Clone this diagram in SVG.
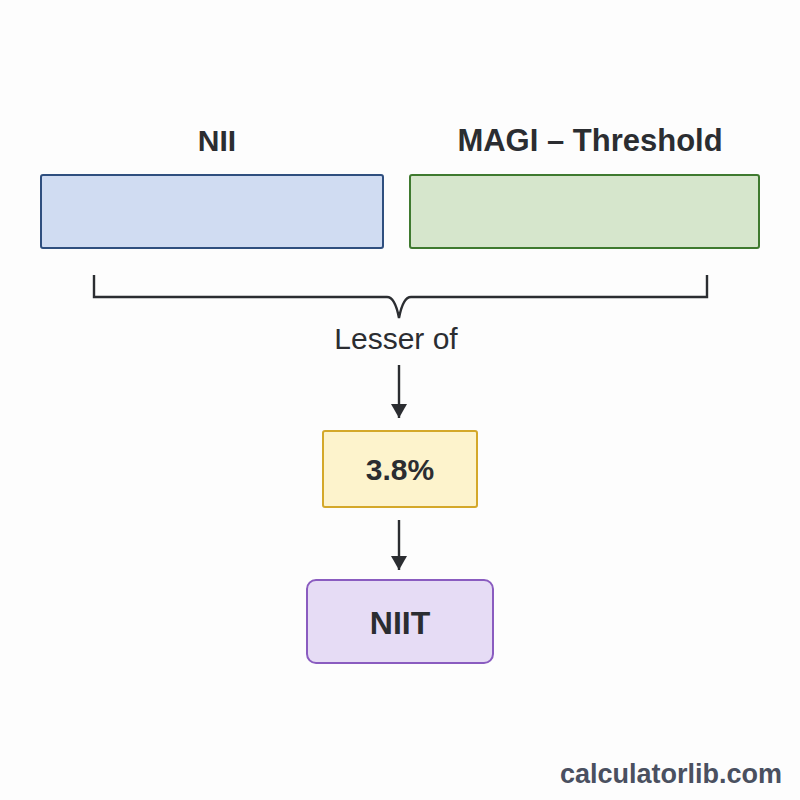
<svg xmlns="http://www.w3.org/2000/svg" width="800" height="800" viewBox="0 0 800 800">
<style>
.t{font-family:"Liberation Sans",Arial,sans-serif;fill:#2b2d31;text-anchor:middle}
.b{font-weight:bold}
.c{fill:none;stroke:#2b2d31;stroke-width:2.4}
</style>
<defs>
<marker id="ah" markerWidth="16" markerHeight="14" refX="8" refY="14" orient="0" markerUnits="userSpaceOnUse" viewBox="0 0 16 14">
<path d="M0,0 L16,0 L8,14 Z" fill="#2b2d31"/>
</marker>
</defs>
<rect width="800" height="800" fill="#fdfdfd"/>
<g id="nii">
<text class="t b" x="217" y="151" font-size="30">NII</text>
<rect x="41" y="175" width="342" height="73" rx="2" fill="#d0dcf2" stroke="#2f4f7f" stroke-width="2"/>
</g>
<g id="magi">
<text class="t b" x="590" y="151" font-size="31">MAGI – Threshold</text>
<rect x="410" y="175" width="349" height="73" rx="2" fill="#d6e6cc" stroke="#3f7a2f" stroke-width="2"/>
</g>
<g id="lesser">
<path class="c" d="M94,275 V297 H387 Q395,297 399,318 Q403,297 411,297 H707 V275"/>
<text class="t" x="396" y="349" font-size="30">Lesser of</text>
</g>
<g id="rate">
<rect x="323" y="431" width="154" height="76" rx="2" fill="#fdf3cc" stroke="#d4a82a" stroke-width="2"/>
<text class="t b" x="400" y="480" font-size="30">3.8%</text>
</g>
<g id="niit">
<rect x="307" y="580" width="186" height="83" rx="9" fill="#e6dcf5" stroke="#8a5cc0" stroke-width="2"/>
<text class="t b" x="400" y="634" font-size="32">NIIT</text>
</g>
<g id="connectors">
<line class="c" x1="399" y1="365" x2="399" y2="418" marker-end="url(#ah)"/>
<line class="c" x1="399" y1="520" x2="399" y2="570" marker-end="url(#ah)"/>
</g>
<text class="t b" x="671" y="783" font-size="27" style="fill:#4a5060">calculatorlib.com</text>
</svg>
